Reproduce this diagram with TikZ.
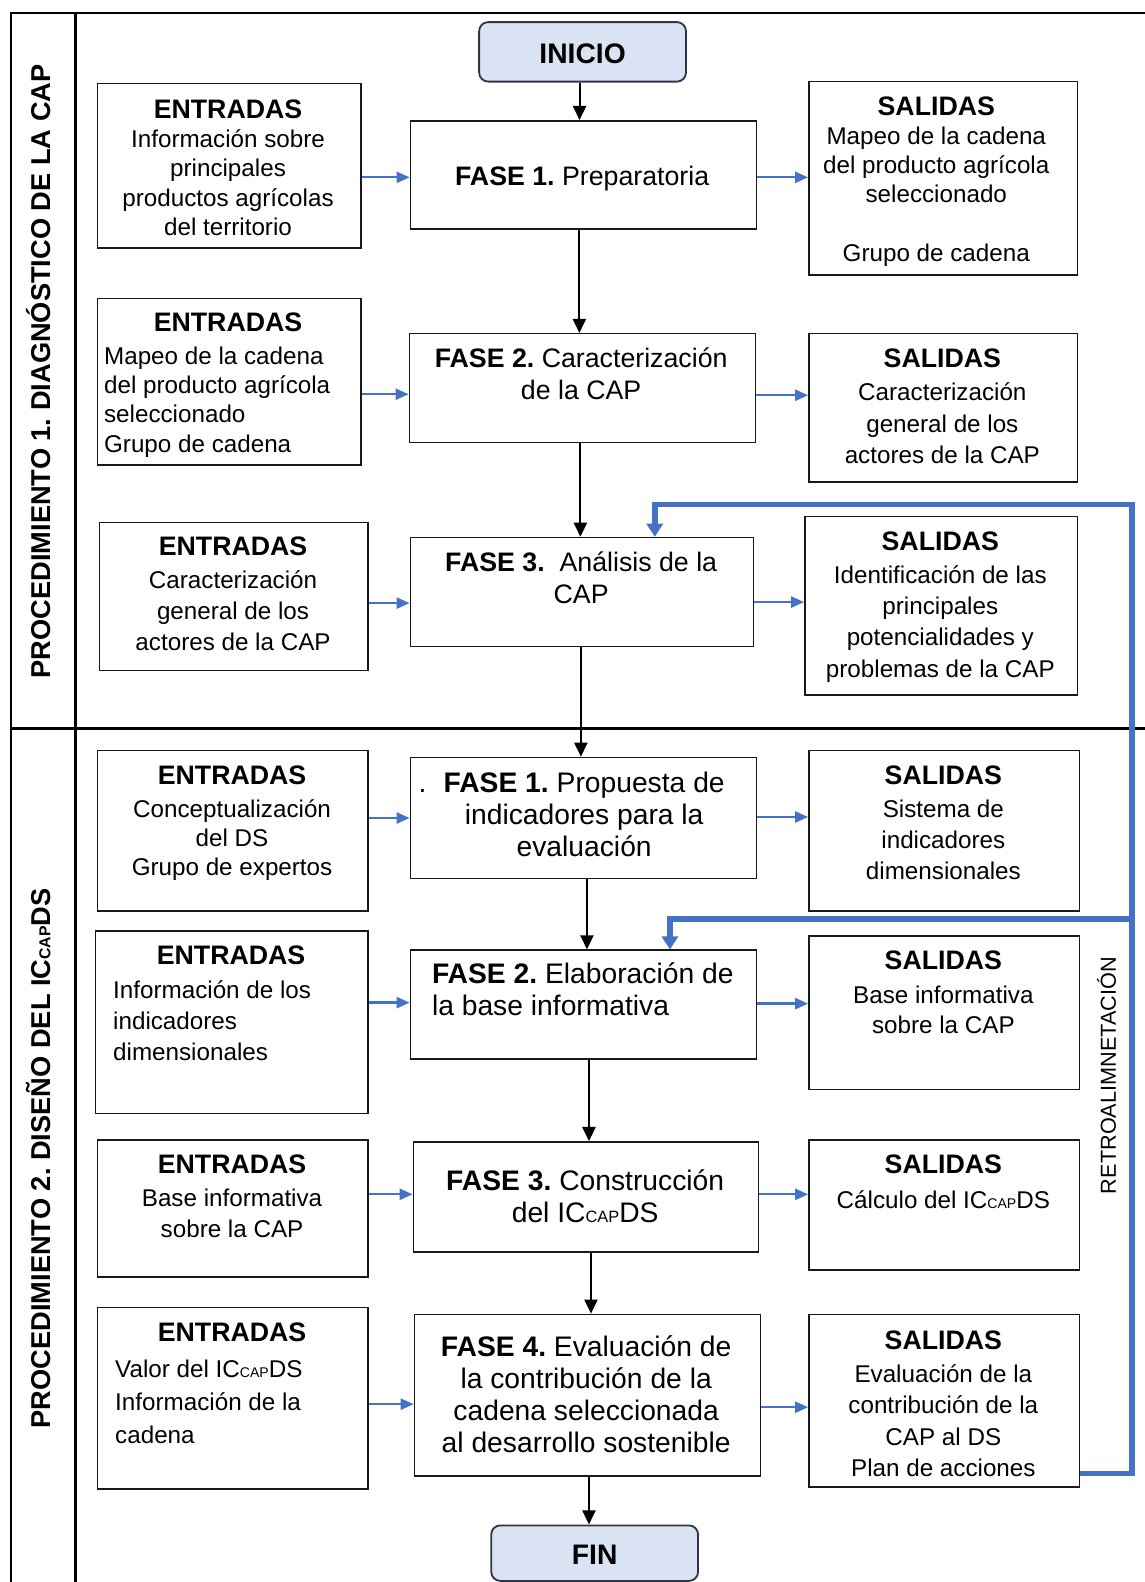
\documentclass[tikz,border=0pt]{standalone}
\usepackage{fontspec}
\setmainfont{Liberation Sans}
\usetikzlibrary{arrows.meta}
\definecolor{flowblue}{HTML}{4472C4}
\definecolor{termfill}{HTML}{DAE3F3}
\definecolor{termdraw}{HTML}{2F3542}
\frenchspacing

% small "CAP" index of the indicator name IC_CAP DS
\newcommand\subCAP{\scalebox{0.58}{CAP}}
% fixed first-line height, so that text blocks are placed by their top
\newcommand\fl{\rule{0pt}{20pt}}
% headings of the side boxes
\newcommand\hd[1]{{\fontsize{26.5}{29}\selectfont\bfseries #1}}
% fonts
\newcommand\sidefont[1]{\fontsize{24}{#1}\selectfont}
\newcommand\fasefont{\fontsize{26.5}{32}\selectfont}
\newcommand\fasefontw{\fontsize{28}{31.5}\selectfont}
% rectangle given by its corners: style, name, x1, y1, x2, y2
\newcommand\pbox[6]{\node[#1, minimum width={(#5-#3)*1pt}, minimum height={(#6-#4)*1pt}] (#2) at (#3,#4) {};}
% blue input/output arrows: box on the left, phase, box on the right, shift in and out
\newcommand\inout[5]{%
  \coordinate (#2in) at ([yshift=#4]#2.west);
  \coordinate (#2out) at ([yshift=#5]#2.east);
  \draw[io] (#1.east |- #2in) -- (#2in);
  \draw[io] (#2out) -- (#2out -| #3.west);}

\begin{document}
\begin{tikzpicture}[x=1pt,y=-1pt,
  box/.style={draw=black!90, line width=1.5pt, fill=white, inner sep=0pt, anchor=north west},
  term/.style={box, draw=termdraw, fill=termfill, rounded corners=9pt, line width=1.8pt},
  txt/.style={inner sep=0pt, anchor=north, align=center},
  ltxt/.style={inner sep=0pt, anchor=north west, align=left},
  frame/.style={line width=2.4pt, line cap=rect},
  flow/.style={-{Triangle[length=14pt,width=13pt]}, line width=2pt},
  io/.style={-{Triangle[length=13pt,width=11pt]}, line width=2.3pt, draw=flowblue},
  fb/.style={line width=5.5pt, draw=flowblue, line join=miter, -{Triangle[length=13pt,width=16pt]}}
]
\useasboundingbox (0,0) rectangle (1134,1568);

% ---------- frame of the two procedures ----------
\draw[frame] (11,1575) -- (11,13) -- (1140,13);
\draw[frame] (75,13) -- (75,1575);
\draw[frame] (11,722) -- (1140,722);

\node[rotate=90, anchor=base, inner sep=0pt, font=\fontsize{27}{30}\selectfont\bfseries] (proc1) at (50,368)
  {PROCEDIMIENTO 1. DIAGNÓSTICO DE LA CAP};
\node[rotate=90, anchor=base, inner sep=0pt, font=\fontsize{27}{30}\selectfont\bfseries] (proc2) at (50,1148)
  {PROCEDIMIENTO 2. DISEÑO DEL IC\subCAP DS};

% ---------- procedure 1 ----------
\pbox{term}{inicio}{474}{21}{679}{80}
\node[inner sep=0pt, font=\fontsize{28}{30}\selectfont\bfseries] (inicioT) at ([yshift=-2pt]inicio.center) {INICIO};

\pbox{box}{ent1}{96}{82}{357}{245}
\pbox{box}{f1}{406}{119}{749}{226}
\pbox{box}{sal1}{801}{80}{1067}{272}
\node[txt, font=\sidefont{29}] (ent1T) at (226,97)
  {\fl\hd{ENTRADAS}\\Información sobre\\principales\\productos agrícolas\\del territorio};
\node[txt, font=\fasefont] (f1T) at (577,164) {\fl\textbf{FASE 1.} Preparatoria};
\node[txt, font=\sidefont{29}] (sal1T) at (928,94)
  {\fl\hd{SALIDAS}\\Mapeo de la cadena\\del producto agrícola\\seleccionado\\[29pt]Grupo de cadena};

\pbox{box}{ent2}{96}{295}{357}{460}
\pbox{box}{f2}{405}{330}{748}{438}
\pbox{box}{sal2}{801}{330}{1067}{477}
\node[txt, font=\sidefont{29}] (ent2H) at (226,308) {\fl\hd{ENTRADAS}};
\node[ltxt, font=\sidefont{29}] (ent2T) at (103,341)
  {\fl Mapeo de la cadena\\del producto agrícola\\seleccionado\\Grupo de cadena};
\node[txt, font=\fasefont] (f2T) at (576,344) {\fl\textbf{FASE 2.} Caracterización\\de la CAP};
\node[txt, font=\sidefont{31}] (sal2T) at (934,344)
  {\fl\hd{SALIDAS}\\[2pt]Caracterización\\general de los\\actores de la CAP};

\pbox{box}{ent3}{98}{517}{364}{664}
\pbox{box}{f3}{406}{532}{746}{640}
\pbox{box}{sal3}{797}{511}{1067}{688}
\node[txt, font=\sidefont{31}] (ent3T) at (231,530)
  {\fl\hd{ENTRADAS}\\[2pt]Caracterización\\general de los\\actores de la CAP};
\node[txt, font=\fasefont] (f3T) at (576,546) {\fl\textbf{FASE 3.}\ \ Análisis de la\\CAP};
\node[txt, font=\sidefont{31}] (sal3T) at (932,525)
  {\fl\hd{SALIDAS}\\[2pt]Identificación de las\\principales\\potencialidades y\\problemas de la CAP};

% ---------- procedure 2 ----------
\pbox{box}{ent4}{96}{743}{364}{902}
\pbox{box}{p2f1}{406}{750}{749}{870}
\pbox{box}{sal4}{801}{743}{1069}{902}
\node[txt, font=\sidefont{29}] (ent4T) at (230,757)
  {\fl\hd{ENTRADAS}\\[4pt]Conceptualización\\del DS\\Grupo de expertos};
\node[txt, font=\fasefontw] (p2f1T) at (579,765)
  {\fl\llap{.\hspace{17pt}}\textbf{FASE 1.} Propuesta de\\indicadores para la\\evaluación};
\node[txt, font=\sidefont{31}] (sal4T) at (935,757)
  {\fl\hd{SALIDAS}\\[2pt]Sistema de\\indicadores\\dimensionales};

\pbox{box}{ent5}{94}{922}{364}{1103}
\pbox{box}{p2f2}{406}{941}{749}{1049}
\pbox{box}{sal5}{801}{927}{1069}{1079}
\node[txt, font=\sidefont{31}] (ent5H) at (229,936) {\fl\hd{ENTRADAS}};
\node[ltxt, font=\sidefont{31}] (ent5T) at (112,969)
  {\fl Información de los\\indicadores\\dimensionales};
\node[ltxt, font=\fasefontw] (p2f2T) at (428,954)
  {\fl\textbf{FASE 2.} Elaboración de\\la base informativa};
\node[txt, font=\sidefont{30}] (sal5T) at (935,941)
  {\fl\hd{SALIDAS}\\[3pt]Base informativa\\sobre la CAP};

\pbox{box}{ent6}{96}{1129}{364}{1265}
\pbox{box}{p2f3}{409}{1131}{751}{1240}
\pbox{box}{sal6}{801}{1129}{1069}{1258}
\node[txt, font=\sidefont{30}] (ent6T) at (230,1143)
  {\fl\hd{ENTRADAS}\\[3pt]Base informativa\\sobre la CAP};
\node[txt, font=\fasefontw] (p2f3T) at (580,1159)
  {\fl\textbf{FASE 3.} Construcción\\del IC\subCAP DS};
\node[txt, font=\sidefont{31}] (sal6T) at (935,1143)
  {\fl\hd{SALIDAS}\\[4pt]Cálculo del IC\subCAP DS};

\pbox{box}{ent7}{96}{1295}{364}{1475}
\pbox{box}{p2f4}{410}{1302}{753}{1462}
\pbox{box}{sal7}{801}{1302}{1069}{1473}
\node[txt, font=\sidefont{31}] (ent7H) at (230,1309) {\fl\hd{ENTRADAS}};
\node[ltxt, font=\sidefont{33}] (ent7T) at (114,1345)
  {\fl Valor del IC\subCAP DS\\Información de la\\cadena};
\node[txt, font=\fasefontw] (p2f4T) at (581,1324)
  {\fl\textbf{FASE 4.} Evaluación de\\la contribución de la\\cadena seleccionada\\al desarrollo sostenible};
\node[txt, font=\sidefont{31}] (sal7T) at (935,1317)
  {\fl\hd{SALIDAS}\\[2pt]Evaluación de la\\contribución de la\\CAP al DS\\Plan de acciones};

\pbox{term}{fin}{486}{1511}{691}{1566}
\node[inner sep=0pt, font=\fontsize{28}{30}\selectfont\bfseries] (finT) at ([yshift=-2pt]fin.center) {FIN};

% ---------- main sequence ----------
\draw[flow] ([xshift=-3pt]inicio.south) -- ([xshift=-3pt]inicio.south |- f1.north);
\draw[flow] ([xshift=-4pt]f1.south) -- ([xshift=-4pt]f1.south |- f2.north);
\draw[flow] ([xshift=-2pt]f2.south) -- ([xshift=-2pt]f2.south |- f3.north);
\draw[flow] ([xshift=-1pt]f3.south) -- ([xshift=-1pt]f3.south |- p2f1.north);
\draw[flow] ([xshift=3.5pt]p2f1.south) -- ([xshift=3.5pt]p2f1.south |- p2f2.north);
\draw[flow] ([xshift=5.5pt]p2f2.south) -- ([xshift=5.5pt]p2f2.south |- p2f3.north);
\draw[flow] ([xshift=5pt]p2f3.south) -- ([xshift=5pt]p2f3.south |- p2f4.north);
\draw[flow] ([xshift=1.5pt]p2f4.south) -- ([xshift=1.5pt]p2f4.south |- fin.north);

% ---------- inputs and outputs ----------
\inout{ent1}{f1}{sal1}{-2.5pt}{-2.5pt}
\inout{ent2}{f2}{sal2}{-6pt}{-7pt}
\inout{ent3}{f3}{sal3}{-11pt}{-10pt}
\inout{ent4}{p2f1}{sal4}{0pt}{1pt}
\inout{ent5}{p2f2}{sal5}{2pt}{1pt}
\inout{ent6}{p2f3}{sal6}{2.5pt}{2.5pt}
\inout{ent7}{p2f4}{sal7}{-9pt}{-12pt}

% ---------- feedback loop ----------
\coordinate (fbTop) at (1122,500);
\coordinate (fbMid) at (1122,911);
\coordinate (fbA) at (649,500);
\coordinate (fbB) at (664,911);
\draw[fb] ([yshift=14pt]sal7.south east) -| (fbTop) -- (fbA) -- (fbA |- f3.north);
\draw[fb] (fbMid) -- (fbB) -- (fbB |- p2f2.north);
\node[rotate=90, anchor=base, inner sep=0pt, font=\fontsize{21.5}{24}\selectfont] (retro) at (1106,1066)
  {RETROALIMNETACIÓN};

\end{tikzpicture}
\end{document}
